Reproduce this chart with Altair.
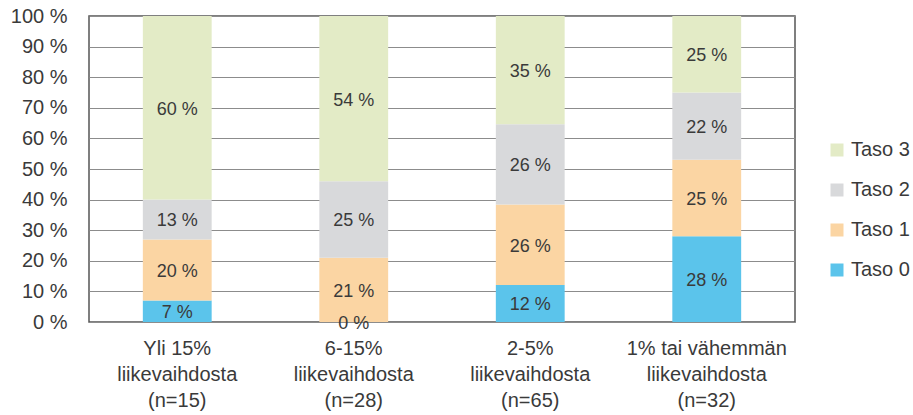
import altair as alt
import pandas as pd

categories = ["Yli 15%|liikevaihdosta|(n=15)", "6-15%|liikevaihdosta|(n=28)",
              "2-5%|liikevaihdosta|(n=65)", "1% tai vähemmän|liikevaihdosta|(n=32)"]
series = ["Taso 0", "Taso 1", "Taso 2", "Taso 3"]
taso0 = [7, 0, 12, 28]
taso1 = [20, 21, 26, 25]
taso2 = [13, 25, 26, 22]
taso3 = [60, 54, 35, 25]
colors = ["#5BC4EB", "#FBD5A3", "#D8D9DB", "#E3EBC6"]
ticks = [0, 0.1, 0.2, 0.3, 0.4, 0.5, 0.6, 0.7, 0.8, 0.9, 1.0]

rows = []
for si, (s, vals) in enumerate(zip(series, [taso0, taso1, taso2, taso3])):
    for c, v in zip(categories, vals):
        rows.append({"cat": c, "series": s, "value": v, "order": si})
df = pd.DataFrame(rows)

FONT = "Liberation Sans"
TXT = "#3a3a3a"

base = alt.Chart(df).transform_stack(
    stack="value", groupby=["cat"], as_=["y0", "y1"], offset="normalize",
    sort=[alt.SortField("order", order="ascending")]
).transform_calculate(mid="(datum.y0 + datum.y1) / 2")

xscale = alt.Scale(paddingInner=0.61, paddingOuter=0.305)
yscale = alt.Scale(domain=[0, 1], nice=False)

xaxis = alt.Axis(labelExpr="split(datum.label, '|')", labelAngle=0,
                 ticks=False, domain=False, grid=False,
                 labelFontSize=20, labelFont=FONT, labelColor=TXT,
                 labelLineHeight=26, labelPadding=16, labelBaseline="top")
yaxis = alt.Axis(values=ticks,
                 labelExpr="round(datum.value*100) + ' %'",
                 ticks=False, domain=False, grid=True,
                 gridColor="#8c8c8c", gridWidth=1,
                 labelFontSize=20, labelFont=FONT, labelColor=TXT,
                 labelPadding=22)

bars = base.mark_bar().encode(
    x=alt.X("cat:N", sort=categories, title=None, scale=xscale, axis=xaxis),
    y=alt.Y("y0:Q", title=None, scale=yscale, axis=yaxis),
    y2="y1:Q",
    color=alt.Color("series:N",
                    scale=alt.Scale(domain=series[::-1], range=colors[::-1]),
                    legend=alt.Legend(title=None, orient="none", legendX=738, legendY=124,
                                      symbolType="square", symbolSize=169,
                                      symbolStrokeWidth=0, labelFontSize=20,
                                      labelFont=FONT, labelColor=TXT,
                                      rowPadding=20, labelOffset=4)),
)

labels = base.mark_text(fontSize=18, font=FONT, color=TXT, baseline="middle", dy=2).encode(
    x=alt.X("cat:N", sort=categories, title=None, scale=xscale, axis=xaxis),
    y=alt.Y("mid:Q", title=None, scale=yscale, axis=yaxis),
    text=alt.Text("label:N"),
).transform_calculate(label="datum.value + ' %'")

chart = alt.layer(bars, labels).properties(
    width=706, height=306,
    background="white",
    autosize=alt.AutoSizeParams(type="none"),
    padding={"left": 89, "top": 16, "right": 118, "bottom": 93},
).configure_view(stroke="#555555", strokeWidth=1.5)

chart.save("out.html", embed_options={"renderer": "svg", "actions": False})
